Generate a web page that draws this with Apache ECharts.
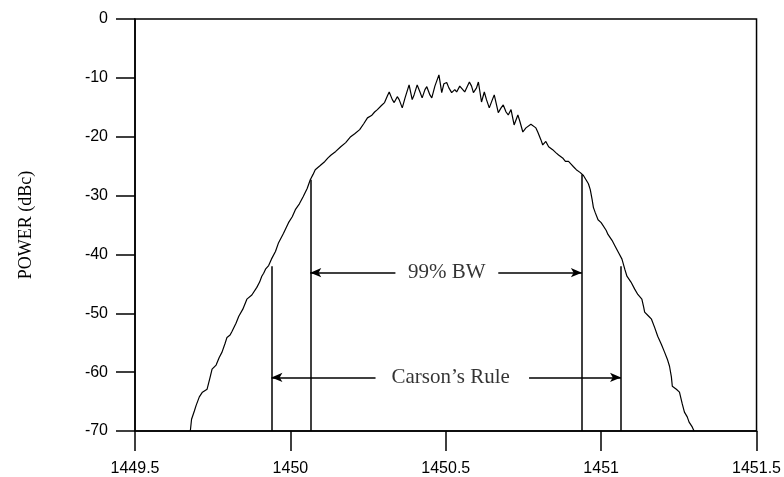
<!DOCTYPE html>
<html>
<head>
<meta charset="utf-8">
<script src="https://cdn.jsdelivr.net/npm/echarts@6/dist/echarts.min.js"></script>
<style>html,body{margin:0;padding:0;background:#fff;}#c{width:784px;height:477px;}</style>
</head>
<body>
<div id="c"></div>
<script>
// Frequency (MHz) and power (dBc)
const freq = [1449.678,1449.682,1449.691,1449.697,1449.707,1449.717,1449.732,1449.742,1449.748,1449.761,1449.771,1449.780,1449.790,1449.796,1449.806,1449.812,1449.825,1449.834,1449.847,1449.860,1449.876,1449.892,1449.901,1449.908,1449.914,1449.920,1449.930,1449.939,1449.952,1449.962,1449.978,1449.994,1450.006,1450.016,1450.029,1450.041,1450.054,1450.064,1450.073,1450.080,1450.096,1450.111,1450.121,1450.131,1450.146,1450.162,1450.178,1450.194,1450.207,1450.223,1450.236,1450.248,1450.261,1450.271,1450.280,1450.293,1450.303,1450.312,1450.318,1450.328,1450.334,1450.344,1450.350,1450.360,1450.369,1450.382,1450.392,1450.398,1450.408,1450.417,1450.424,1450.433,1450.439,1450.449,1450.455,1450.465,1450.478,1450.487,1450.494,1450.503,1450.510,1450.519,1450.529,1450.535,1450.545,1450.551,1450.561,1450.567,1450.576,1450.583,1450.589,1450.599,1450.605,1450.615,1450.624,1450.631,1450.640,1450.650,1450.656,1450.669,1450.678,1450.685,1450.694,1450.701,1450.710,1450.720,1450.732,1450.739,1450.748,1450.758,1450.764,1450.774,1450.780,1450.790,1450.796,1450.806,1450.812,1450.822,1450.831,1450.844,1450.854,1450.863,1450.876,1450.885,1450.895,1450.904,1450.911,1450.920,1450.933,1450.943,1450.949,1450.959,1450.965,1450.971,1450.975,1450.981,1450.990,1451.000,1451.006,1451.016,1451.022,1451.035,1451.045,1451.057,1451.067,1451.076,1451.083,1451.096,1451.108,1451.118,1451.131,1451.137,1451.140,1451.153,1451.162,1451.172,1451.182,1451.194,1451.204,1451.213,1451.220,1451.226,1451.229,1451.242,1451.252,1451.261,1451.268,1451.277,1451.283,1451.293,1451.299];
const power = [-70.0,-68.0,-66.6,-65.6,-64.2,-63.4,-62.9,-60.8,-59.5,-58.8,-57.5,-56.6,-55.1,-54.1,-53.7,-53.1,-51.7,-50.5,-49.3,-47.6,-46.9,-45.6,-44.7,-43.7,-43.2,-42.5,-41.9,-40.8,-39.5,-38.0,-36.4,-34.6,-33.6,-32.4,-31.4,-30.2,-28.8,-27.3,-26.4,-25.6,-24.9,-24.2,-23.6,-23.1,-22.5,-21.7,-21.0,-20.0,-19.5,-18.8,-17.8,-16.8,-16.4,-15.8,-15.4,-14.7,-14.2,-13.1,-12.4,-13.7,-14.2,-13.2,-13.7,-15.1,-13.4,-11.2,-13.7,-12.9,-11.2,-12.4,-13.4,-12.0,-11.5,-12.9,-13.4,-11.4,-9.5,-12.5,-11.0,-10.8,-11.7,-12.5,-12.0,-12.4,-11.4,-11.5,-12.4,-12.5,-10.7,-11.4,-12.5,-11.7,-10.7,-14.1,-12.4,-13.7,-15.1,-13.7,-12.9,-15.9,-15.1,-14.6,-15.8,-16.3,-15.4,-18.0,-16.3,-17.5,-19.2,-18.5,-18.3,-17.9,-17.6,-18.5,-19.2,-20.5,-21.4,-20.8,-21.7,-22.2,-22.7,-23.1,-23.6,-24.2,-24.2,-24.7,-25.1,-25.6,-26.1,-26.6,-26.9,-28.0,-29.0,-30.7,-32.0,-32.9,-34.1,-34.6,-34.9,-35.9,-36.6,-37.6,-38.6,-39.8,-40.8,-42.5,-43.7,-44.7,-45.9,-46.8,-47.6,-49.0,-49.8,-50.5,-51.0,-52.4,-53.9,-55.3,-56.6,-57.8,-59.0,-60.8,-62.4,-62.9,-63.4,-65.4,-66.8,-67.6,-68.5,-69.3,-70.0];

// Axis ticks
const xTicks = [1449.5, 1450, 1450.5, 1451, 1451.5];
const yTicks = [0, -10, -20, -30, -40, -50, -60, -70];

// Bandwidth annotations (MHz / dBc)
const bwEdges = [1450.064, 1450.938];
const bwTops = [-27.3, -26.4];
const carsonEdges = [1449.939, 1451.064];
const carsonTops = [-42.0, -42.0];
const bwArrowY = -43.1;
const carsonArrowY = -60.9;
const bwGap = [1450.338, 1450.669];
const carsonGap = [1450.274, 1450.768];
const bwLabel = ['99% BW', 1450.503];
const carsonLabel = ['Carson\u2019s Rule', 1450.516];

const chart = echarts.init(document.getElementById('c'), null, {renderer: 'canvas'});
const black = '#000';
const serif = '"Liberation Serif", "Times New Roman", serif';
const sans = '"Liberation Sans", Arial, sans-serif';

const vLines = [];
bwEdges.forEach((x, i) => vLines.push([{coord: [x, bwTops[i]]}, {coord: [x, -70]}]));
carsonEdges.forEach((x, i) => vLines.push([{coord: [x, carsonTops[i]]}, {coord: [x, -70]}]));

const arrows = [
  [{coord: [bwEdges[0], bwArrowY]}, {coord: [bwGap[0], bwArrowY]}],
  [{coord: [bwEdges[1], bwArrowY]}, {coord: [bwGap[1], bwArrowY]}],
  [{coord: [carsonEdges[0], carsonArrowY]}, {coord: [carsonGap[0], carsonArrowY]}],
  [{coord: [carsonEdges[1], carsonArrowY]}, {coord: [carsonGap[1], carsonArrowY]}]
];

chart.setOption({
  animation: false,
  backgroundColor: '#fff',
  grid: {left: 135, right: 21, top: 19, bottom: 45, show: true, borderColor: black, borderWidth: 1.5, backgroundColor: 'transparent'},
  xAxis: {
    type: 'value', min: xTicks[0], max: xTicks[xTicks.length - 1], interval: 0.5,
    axisLine: {onZero: false, lineStyle: {color: black, width: 1.5}},
    axisTick: {show: true, inside: false, length: 20, lineStyle: {color: black, width: 1.5}},
    splitLine: {show: false},
    axisLabel: {margin: 30, color: '#000', fontFamily: sans, fontSize: 16, formatter: v => String(v)}
  },
  yAxis: {
    type: 'value', min: yTicks[yTicks.length - 1], max: yTicks[0], interval: 10,
    name: 'POWER (dBc)', nameLocation: 'middle', nameGap: 100,
    nameTextStyle: {fontFamily: serif, fontSize: 18, color: '#000'},
    axisLine: {onZero: false, lineStyle: {color: black, width: 1.5}},
    axisTick: {show: true, inside: false, length: 19, lineStyle: {color: black, width: 1.5}},
    splitLine: {show: false},
    axisLabel: {margin: 27, color: '#000', fontFamily: sans, fontSize: 16, formatter: v => String(v)}
  },
  series: [
    {
      type: 'line', data: freq.map((f, i) => [f, power[i]]), showSymbol: false, symbol: 'none',
      lineStyle: {color: black, width: 1.2}, z: 3
    },
    {
      type: 'line', data: [], 
      markLine: {
        silent: true, symbol: ['none', 'none'], animation: false,
        lineStyle: {color: black, width: 1.5, type: 'solid'}, label: {show: false},
        data: vLines
      }
    },
    {
      type: 'line', data: [],
      markLine: {
        silent: true, symbol: ['arrow', 'none'], symbolSize: [7, 11], animation: false,
        lineStyle: {color: black, width: 1.5, type: 'solid'}, label: {show: false},
        data: arrows
      }
    },
    {
      type: 'scatter', symbolSize: 0,
      data: [
        {name: bwLabel[0], value: [bwLabel[1], bwArrowY]},
        {name: carsonLabel[0], value: [carsonLabel[1], carsonArrowY]}
      ],
      label: {show: true, position: 'inside', formatter: p => p.name, color: '#000', fontFamily: serif, fontSize: 21}
    }
  ]
});
</script>
</body>
</html>
